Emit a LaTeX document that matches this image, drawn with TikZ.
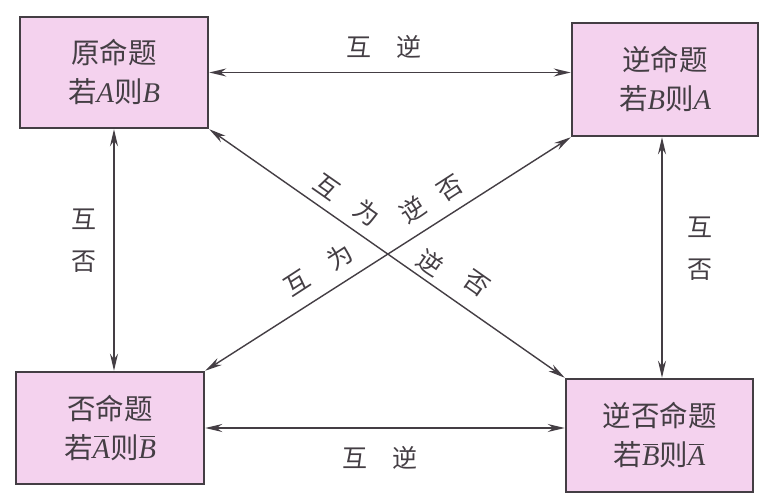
\documentclass[tikz,border=0pt]{standalone}
\usepackage{fontspec}
\setmainfont{Liberation Serif}
\newfontfamily\cjk{Noto Sans CJK SC}
\newfontfamily\lat{Liberation Serif}
\usetikzlibrary{arrows.meta}
\definecolor{boxfill}{RGB}{244,210,238}
\definecolor{ink}{RGB}{68,62,68}
\newcommand{\La}{{\lat\itshape A}}
\newcommand{\Lb}{{\lat\itshape B}}
\newcommand{\ovbar}[1]{\ooalign{\hfil\rule[21pt]{15pt}{1.3pt}\hfil\cr#1}}
\newcommand{\nA}{\ovbar{\lat\itshape A\/}}
\newcommand{\nB}{\ovbar{\lat\itshape B\/}}
\begin{document}
\begin{tikzpicture}[x=1pt,y=-1pt,
  prop/.style={draw=ink, line width=2.5pt, fill=boxfill, inner sep=0pt, align=center,
    font=\cjk\fontsize{28.5}{39}\selectfont, text=ink},
  link/.style={draw=ink, line width=1.4pt, {Stealth[length=17pt,width=8pt]}-{Stealth[length=17pt,width=8pt]}},
  lab/.style={font=\cjk\fontsize{25}{42}\selectfont, text=ink, inner sep=0pt, align=center}]
\useasboundingbox (0,0) rectangle (761,494);
\fill[white] (0,0) rectangle (761,494);
% boxes
\node[prop, minimum width=188pt, minimum height=111pt] (P)  at (114,72.5)  {原命题\\若\La 则\Lb};
\node[prop, minimum width=186pt, minimum height=113pt] (C)  at (665,79.5)  {逆命题\\若\Lb 则\La};
\node[prop, minimum width=188pt, minimum height=112pt] (N)  at (110,428)   {否命题\\若\nA 则\nB};
\node[prop, minimum width=187pt, minimum height=113pt] (CN) at (659.5,435.5) {逆否命题\\若\nB 则\nA};
% connectors
\draw[link] (P.east) -- (P.east -| C.west);
\draw[link] (N.east) -- (N.east -| CN.west);
\draw[link] (P.south) -- (P.south |- N.north);
\draw[link] ([xshift=-3pt]C.south) -- ([xshift=-3pt]C.south |- CN.north);
\draw[link] (P.south east) -- (CN.north west);
\draw[link] (C.south west) -- (N.north east);
% labels
\node[lab] (l1) at (384,47) {互\hspace{25pt}逆};
\node[lab] (l2) at (380,458) {互\hspace{25pt}逆};
\node[lab] (l3) at (84,241) {互\\否};
\node[lab] (l4) at (700,249) {互\\否};
\node[lab, rotate=-35] (d1) at (327,187) {互};
\node[lab, rotate=-35] (d2) at (367,213) {为};
\node[lab, rotate=33]  (d3) at (413,210) {逆};
\node[lab, rotate=33]  (d4) at (450,188) {否};
\node[lab, rotate=33]  (d5) at (297,283) {互};
\node[lab, rotate=33]  (d6) at (340,257) {为};
\node[lab, rotate=-35] (d7) at (430,263) {逆};
\node[lab, rotate=-35] (d8) at (477,283) {否};
\end{tikzpicture}
\end{document}
